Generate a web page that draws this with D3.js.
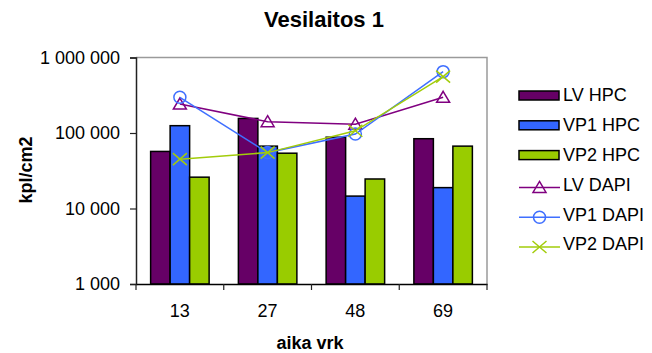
<!DOCTYPE html>
<html>
<head>
<meta charset="utf-8">
<script src="https://cdn.jsdelivr.net/npm/d3@7"></script>
<style>
  html, body { margin: 0; padding: 0; background: #fff; }
  svg { display: block; font-family: "Liberation Sans", Arial, sans-serif; }
</style>
</head>
<body>
<svg id="chart" width="652" height="353"></svg>
<script>
const categories = ["13", "27", "48", "69"];
const barSeriesNames = ["LV HPC", "VP1 HPC", "VP2 HPC"];
const lvHpc  = [57000, 156000, 88000, 84000];
const vp1Hpc = [125000, 67000, 14600, 18900];
const vp2Hpc = [26000, 54000, 24600, 67000];
const lineSeriesNames = ["LV DAPI", "VP1 DAPI", "VP2 DAPI"];
const lvDapi  = [242000, 141000, 131000, 297000];
const vp1Dapi = [297000, 55000, 97000, 650000];
const vp2Dapi = [45000, 55000, 107000, 557000];
const yTicks = [1000, 10000, 100000, 1000000];

const barColors = ["#660066", "#3366FF", "#99CC00"];
const lineColors = ["#800080", "#3F6FFF", "#A2CC0A"];
const markers = ["triangle", "circle", "cross"];

const svg = d3.select("#chart");
const m = { left: 136, right: 487, top: 57.5, bottom: 284 };

const x = d3.scaleBand().domain(categories).range([m.left, m.right]).padding(0);
const xInner = d3.scaleBand().domain(barSeriesNames).range([0, x.bandwidth()])
  .paddingInner(0).paddingOuter(0.75);
const y = d3.scaleLog().domain([1000, 1000000]).range([m.bottom, m.top]);

// plot frame (gray top/right)
svg.append("path")
  .attr("d", `M${m.left},${m.top}H${m.right}V${m.bottom}`)
  .attr("fill", "none").attr("stroke", "#9a9a9a").attr("stroke-width", 1.5);

// bars
const barData = [lvHpc, vp1Hpc, vp2Hpc];
barData.forEach((vals, si) => {
  svg.append("g").selectAll("rect").data(vals).join("rect")
    .attr("x", (d, i) => x(categories[i]) + xInner(barSeriesNames[si]))
    .attr("y", d => y(d))
    .attr("width", xInner.bandwidth())
    .attr("height", d => m.bottom - y(d))
    .attr("fill", barColors[si])
    .attr("stroke", "#000").attr("stroke-width", 1.5);
});

// y axis
const fmt = v => d3.format(",")(v).replace(/,/g, " ");
const yAxis = svg.append("g").attr("transform", `translate(${m.left},0)`)
  .call(d3.axisLeft(y).tickValues(yTicks).tickFormat(fmt).tickSize(6).tickPadding(10));
yAxis.select(".domain").attr("stroke", "#222").attr("stroke-width", 1.5);
yAxis.selectAll(".tick line").attr("stroke", "#222").attr("stroke-width", 1.2);
yAxis.selectAll("text").attr("font-size", 18).attr("fill", "#000");

// x axis
const xAxis = svg.append("g").attr("transform", `translate(0,${m.bottom})`)
  .call(d3.axisBottom(x).tickSize(0).tickPadding(20));
xAxis.select(".domain").attr("stroke", "#000").attr("stroke-width", 1.5);
xAxis.selectAll("text").attr("font-size", 18).attr("fill", "#000");
const bounds = categories.map(c => x(c)).concat([x(categories[categories.length - 1]) + x.bandwidth()]);
xAxis.selectAll(".bt").data(bounds).join("line").attr("class", "bt")
  .attr("x1", d => d).attr("x2", d => d).attr("y1", 0).attr("y2", 6)
  .attr("stroke", "#222").attr("stroke-width", 1.2);

// lines
const lineData = [lvDapi, vp1Dapi, vp2Dapi];
const cx = i => x(categories[i]) + x.bandwidth() / 2;
const line = d3.line().x((d, i) => cx(i)).y(d => y(d));

function drawMarker(g, type, color, px, py) {
  if (type === "triangle") {
    g.append("path").attr("d", `M${px},${py - 6}L${px + 6.5},${py + 5}L${px - 6.5},${py + 5}Z`)
      .attr("fill", "none").attr("stroke", color).attr("stroke-width", 1.5);
  } else if (type === "circle") {
    g.append("circle").attr("cx", px).attr("cy", py).attr("r", 6)
      .attr("fill", "none").attr("stroke", color).attr("stroke-width", 1.5);
  } else {
    g.append("path").attr("d", `M${px - 7},${py - 6}L${px + 7},${py + 6}M${px + 7},${py - 6}L${px - 7},${py + 6}`)
      .attr("fill", "none").attr("stroke", color).attr("stroke-width", 1.5);
  }
}

lineData.forEach((vals, si) => {
  const g = svg.append("g");
  g.append("path").datum(vals).attr("d", line)
    .attr("fill", "none").attr("stroke", lineColors[si]).attr("stroke-width", 1.5);
  vals.forEach((v, i) => drawMarker(g, markers[si], lineColors[si], cx(i), y(v)));
});

// title
svg.append("text").attr("x", 324).attr("y", 27).attr("text-anchor", "middle")
  .attr("font-size", 22).attr("font-weight", "bold").text("Vesilaitos 1");

// axis titles
svg.append("text").attr("transform", "translate(32,170) rotate(-90)")
  .attr("text-anchor", "middle").attr("font-size", 18).attr("font-weight", "bold").text("kpl/cm2");
svg.append("text").attr("x", 310).attr("y", 349).attr("text-anchor", "middle")
  .attr("font-size", 18).attr("font-weight", "bold").text("aika vrk");

// legend
const legendNames = barSeriesNames.concat(lineSeriesNames);
const lg = svg.append("g");
legendNames.forEach((name, i) => {
  const ry = 95 + i * 29.8;
  if (i < 3) {
    lg.append("rect").attr("x", 519).attr("y", ry - 4).attr("width", 40).attr("height", 9)
      .attr("fill", barColors[i]).attr("stroke", "#000").attr("stroke-width", 1.5);
  } else {
    const k = i - 3;
    const ly = ry + 3;
    lg.append("line").attr("x1", 519).attr("x2", 560).attr("y1", ly).attr("y2", ly)
      .attr("stroke", lineColors[k]).attr("stroke-width", 1.5);
    drawMarker(lg, markers[k], lineColors[k], 539.5, ly);
  }
  lg.append("text").attr("x", 563).attr("y", ry).attr("dy", "0.36em")
    .attr("font-size", 18).attr("fill", "#000").text(name);
});
</script>
</body>
</html>
